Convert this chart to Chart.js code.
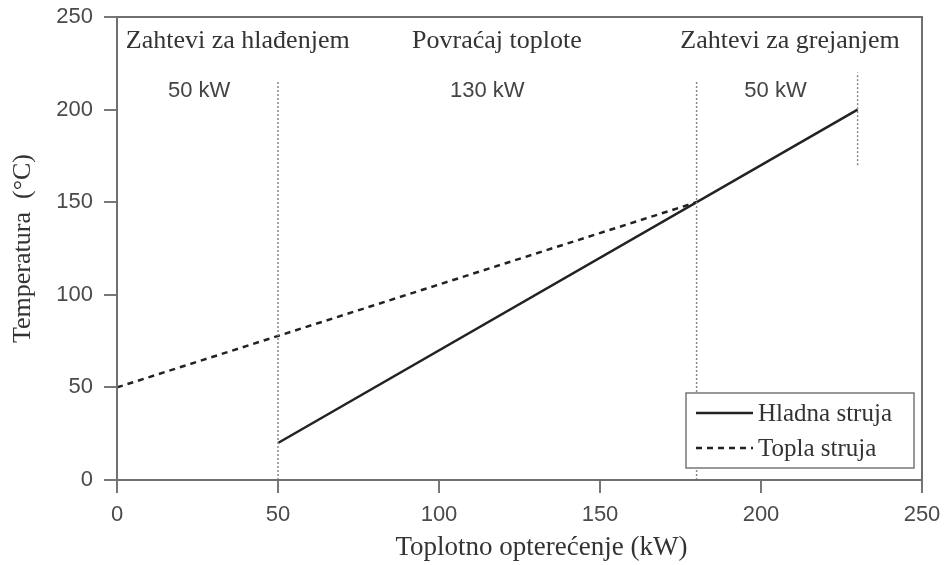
<!DOCTYPE html>
<html>
<head>
<meta charset="utf-8">
<script src="https://cdn.jsdelivr.net/npm/chart.js@4/dist/chart.umd.min.js"></script>
<style>
  html, body { margin: 0; padding: 0; background: #fff; }
  #wrap { width: 947px; height: 565px; }
</style>
</head>
<body>
<div id="wrap"><canvas id="pinch"></canvas></div>
<script>
// stream end points (kW, °C)
const coldX = [50, 230];
const coldY = [20, 200];
const hotX = [0, 180];
const hotY = [50, 150];

// dotted boundaries
const boundX = [50, 180, 230];
const boundLow = [0, 0, 170];
const boundHigh = [215, 215, 220];

// region labels
const zoneNames = ['Zahtevi za hlađenjem', 'Povraćaj toplote', 'Zahtevi za grejanjem'];
const zoneNameX = [37.5, 118, 209];
const zoneLoads = ['50 kW', '130 kW', '50 kW'];
const zoneLoadX = [25.5, 115, 204.5];
const nameY = 237;
const loadY = 210;

const xTicks = [0, 50, 100, 150, 200, 250];
const yTicks = [0, 50, 100, 150, 200, 250];
const xTitle = 'Toplotno opterećenje (kW)';
const yTitle = 'Temperatura  (°C)';

const serif = '"Liberation Serif", "DejaVu Serif", serif';
const sans = '"Liberation Sans", Arial, sans-serif';
const ink = '#222';

const toPts = (xs, ys) => xs.map((x, i) => ({ x: x, y: ys[i] }));

const datasets = [
  { label: 'Hladna struja', data: toPts(coldX, coldY), borderColor: ink, borderWidth: 2.5 },
  { label: 'Topla struja', data: toPts(hotX, hotY), borderColor: ink, borderWidth: 2.5, borderDash: [6, 5] }
];
boundX.forEach((x, i) => {
  datasets.push({
    label: 'bound' + i,
    data: [{ x: x, y: boundLow[i] }, { x: x, y: boundHigh[i] }],
    borderColor: '#888', borderWidth: 1.5, borderDash: [2, 2], isBound: true
  });
});
datasets.forEach(d => { d.showLine = true; d.pointRadius = 0; d.fill = false; });
// boundaries drawn first so the streams sit on top
datasets.sort((a, b) => (b.isBound ? 1 : 0) - (a.isBound ? 1 : 0));

const decor = {
  id: 'decor',
  afterDatasetsDraw(chart) {
    const { ctx, chartArea: a, scales } = chart;
    const sx = scales.x, sy = scales.y;
    ctx.save();
    // frame
    ctx.strokeStyle = '#707070';
    ctx.lineWidth = 2;
    ctx.strokeRect(a.left, a.top, a.right - a.left, a.bottom - a.top);

    // zone labels
    ctx.textAlign = 'center';
    ctx.textBaseline = 'middle';
    ctx.fillStyle = '#333';
    ctx.font = '26px ' + serif;
    zoneNames.forEach((t, i) => ctx.fillText(t, sx.getPixelForValue(zoneNameX[i]), sy.getPixelForValue(nameY)));
    ctx.fillStyle = '#444';
    ctx.font = '22px ' + sans;
    zoneLoads.forEach((t, i) => ctx.fillText(t, sx.getPixelForValue(zoneLoadX[i]), sy.getPixelForValue(loadY)));

    // x axis title, set slightly right of centre as in the original
    ctx.fillStyle = '#333';
    ctx.font = '27px ' + serif;
    ctx.fillText(xTitle, (a.left + a.right) / 2 + 22, sx.bottom - 17);

    // legend box
    const streams = chart.data.datasets.filter(d => !d.isBound);
    const bw = 228, bh = 75;
    const bx = a.right - 8 - bw, by = a.bottom - 12 - bh;
    ctx.fillStyle = '#fff';
    ctx.fillRect(bx, by, bw, bh);
    ctx.strokeStyle = '#777';
    ctx.lineWidth = 1.5;
    ctx.strokeRect(bx, by, bw, bh);
    ctx.font = '25px ' + serif;
    ctx.textAlign = 'left';
    streams.forEach((d, i) => {
      const yy = by + 20 + i * 35;
      ctx.strokeStyle = d.borderColor;
      ctx.lineWidth = d.borderWidth;
      ctx.setLineDash(d.borderDash || []);
      ctx.beginPath();
      ctx.moveTo(bx + 10, yy);
      ctx.lineTo(bx + 67, yy);
      ctx.stroke();
      ctx.setLineDash([]);
      ctx.fillStyle = '#333';
      ctx.fillText(d.label, bx + 72, yy + 1);
    });
    ctx.restore();
  }
};

new Chart(document.getElementById('pinch'), {
  type: 'scatter',
  data: { datasets: datasets },
  options: {
    responsive: true,
    maintainAspectRatio: false,
    animation: false,
    layout: { padding: { top: 17, right: 25, left: 6, bottom: 0 } },
    plugins: { legend: { display: false }, tooltip: { enabled: false } },
    scales: {
      x: {
        type: 'linear', min: 0, max: 250,
        afterBuildTicks: s => { s.ticks = xTicks.map(v => ({ value: v })); },
        afterFit: s => { s.height = 85; s.paddingLeft = 0; s.paddingRight = 0; },
        grid: { drawOnChartArea: false, tickLength: 13, color: '#777', lineWidth: 2 },
        border: { display: false },
        ticks: { color: '#4a4a4a', font: { family: sans, size: 22 }, padding: 9, maxRotation: 0 },
        title: { display: false }
      },
      y: {
        type: 'linear', min: 0, max: 250,
        afterBuildTicks: s => { s.ticks = yTicks.map(v => ({ value: v })); },
        afterFit: s => { s.width = 111; s.paddingTop = 0; s.paddingBottom = 0; },
        grid: { drawOnChartArea: false, tickLength: 13, color: '#777', lineWidth: 2 },
        border: { display: false },
        ticks: { color: '#4a4a4a', font: { family: sans, size: 22 }, padding: 11 },
        title: { display: true, text: yTitle, color: '#333', font: { family: serif, size: 26 }, padding: { top: 2, bottom: 4 } }
      }
    }
  },
  plugins: [decor]
});
</script>
</body>
</html>
